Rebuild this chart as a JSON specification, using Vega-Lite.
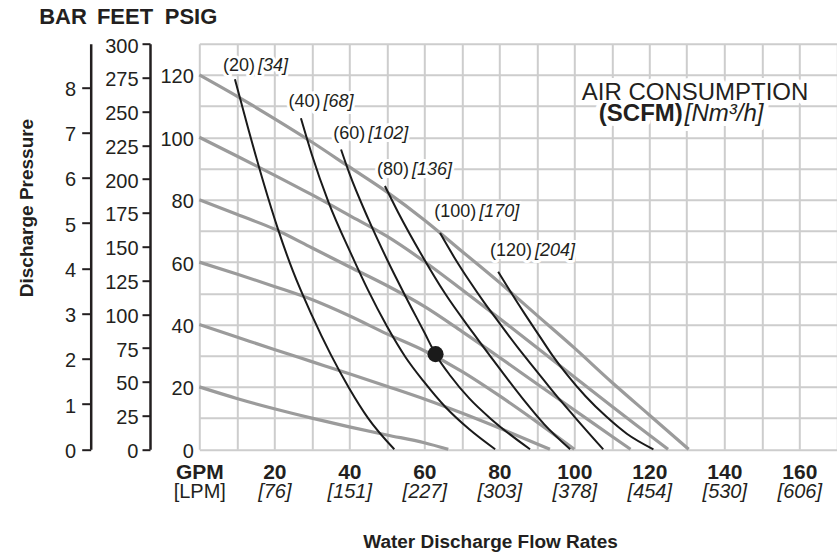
{
  "$schema": "https://vega.github.io/schema/vega-lite/v6.json",
  "width": 637.5,
  "height": 405.6,
  "autosize": {"type": "none"},
  "padding": {"left": 199.3, "top": 43.7, "right": 0, "bottom": 106.7},
  "background": "white",
  "config": {"view": {"stroke": null}, "font": "Liberation Sans"},
  "datasets": {
    "gray": [
      {"c": "120", "gpm": 0, "psi": 120}, {"c": "120", "gpm": 10, "psi": 113.2}, {"c": "120", "gpm": 20, "psi": 106}, {"c": "120", "gpm": 30, "psi": 98.5}, {"c": "120", "gpm": 40, "psi": 90.5}, {"c": "120", "gpm": 50, "psi": 82.5}, {"c": "120", "gpm": 60, "psi": 73.5}, {"c": "120", "gpm": 70, "psi": 63.5}, {"c": "120", "gpm": 80, "psi": 53.5}, {"c": "120", "gpm": 90, "psi": 43}, {"c": "120", "gpm": 100, "psi": 32.5}, {"c": "120", "gpm": 110, "psi": 21.5}, {"c": "120", "gpm": 120, "psi": 11}, {"c": "120", "gpm": 130.5, "psi": 0},
      {"c": "100", "gpm": 0, "psi": 100}, {"c": "100", "gpm": 10, "psi": 94}, {"c": "100", "gpm": 20, "psi": 87.9}, {"c": "100", "gpm": 30, "psi": 81.6}, {"c": "100", "gpm": 40, "psi": 75}, {"c": "100", "gpm": 50, "psi": 68.3}, {"c": "100", "gpm": 60, "psi": 60.2}, {"c": "100", "gpm": 70, "psi": 51.2}, {"c": "100", "gpm": 80, "psi": 42}, {"c": "100", "gpm": 90, "psi": 32.6}, {"c": "100", "gpm": 100, "psi": 23.2}, {"c": "100", "gpm": 110, "psi": 13.8}, {"c": "100", "gpm": 120, "psi": 4.6}, {"c": "100", "gpm": 125, "psi": 0},
      {"c": "80", "gpm": 0, "psi": 80}, {"c": "80", "gpm": 10, "psi": 75.3}, {"c": "80", "gpm": 20, "psi": 70.6}, {"c": "80", "gpm": 30, "psi": 64.6}, {"c": "80", "gpm": 40, "psi": 58.5}, {"c": "80", "gpm": 50, "psi": 52.5}, {"c": "80", "gpm": 60, "psi": 45.8}, {"c": "80", "gpm": 70, "psi": 37.8}, {"c": "80", "gpm": 80, "psi": 29.5}, {"c": "80", "gpm": 90, "psi": 21}, {"c": "80", "gpm": 100, "psi": 12.6}, {"c": "80", "gpm": 110, "psi": 4.2}, {"c": "80", "gpm": 115, "psi": 0},
      {"c": "60", "gpm": 0, "psi": 60}, {"c": "60", "gpm": 10, "psi": 56.2}, {"c": "60", "gpm": 20, "psi": 52.2}, {"c": "60", "gpm": 30, "psi": 48}, {"c": "60", "gpm": 40, "psi": 42.8}, {"c": "60", "gpm": 50, "psi": 37}, {"c": "60", "gpm": 60, "psi": 31.6}, {"c": "60", "gpm": 70, "psi": 25}, {"c": "60", "gpm": 80, "psi": 17.2}, {"c": "60", "gpm": 90, "psi": 8.8}, {"c": "60", "gpm": 100, "psi": 0},
      {"c": "40", "gpm": 0, "psi": 40}, {"c": "40", "gpm": 10, "psi": 36}, {"c": "40", "gpm": 20, "psi": 32}, {"c": "40", "gpm": 30, "psi": 28.1}, {"c": "40", "gpm": 40, "psi": 24.2}, {"c": "40", "gpm": 50, "psi": 20.2}, {"c": "40", "gpm": 60, "psi": 16.1}, {"c": "40", "gpm": 70, "psi": 11.6}, {"c": "40", "gpm": 80, "psi": 6.8}, {"c": "40", "gpm": 93.5, "psi": 0},
      {"c": "20", "gpm": 0, "psi": 20}, {"c": "20", "gpm": 10, "psi": 16.3}, {"c": "20", "gpm": 20, "psi": 13}, {"c": "20", "gpm": 30, "psi": 10}, {"c": "20", "gpm": 40, "psi": 7.2}, {"c": "20", "gpm": 50, "psi": 4.6}, {"c": "20", "gpm": 60, "psi": 2.1}, {"c": "20", "gpm": 66.4, "psi": 0}
    ],
    "black": [
      {"c": "20", "gpm": 9.5, "psi": 118.6}, {"c": "20", "gpm": 13, "psi": 103}, {"c": "20", "gpm": 17, "psi": 86}, {"c": "20", "gpm": 21, "psi": 70.5}, {"c": "20", "gpm": 25, "psi": 57}, {"c": "20", "gpm": 30, "psi": 43}, {"c": "20", "gpm": 35, "psi": 30.5}, {"c": "20", "gpm": 40, "psi": 19.5}, {"c": "20", "gpm": 45, "psi": 10}, {"c": "20", "gpm": 52, "psi": 0},
      {"c": "40", "gpm": 27.1, "psi": 106.1}, {"c": "40", "gpm": 30, "psi": 94.5}, {"c": "40", "gpm": 34.4, "psi": 79.4}, {"c": "40", "gpm": 40.6, "psi": 62.3}, {"c": "40", "gpm": 45, "psi": 51}, {"c": "40", "gpm": 50, "psi": 39.5}, {"c": "40", "gpm": 55, "psi": 29.5}, {"c": "40", "gpm": 60, "psi": 21.5}, {"c": "40", "gpm": 65.5, "psi": 13.7}, {"c": "40", "gpm": 72, "psi": 6.4}, {"c": "40", "gpm": 78.9, "psi": 0},
      {"c": "60", "gpm": 37.8, "psi": 96.1}, {"c": "60", "gpm": 40, "psi": 88.5}, {"c": "60", "gpm": 45, "psi": 74}, {"c": "60", "gpm": 50, "psi": 61}, {"c": "60", "gpm": 55, "psi": 49}, {"c": "60", "gpm": 60, "psi": 37.5}, {"c": "60", "gpm": 63, "psi": 30.5}, {"c": "60", "gpm": 67, "psi": 23.5}, {"c": "60", "gpm": 72, "psi": 16.3}, {"c": "60", "gpm": 78, "psi": 9.5}, {"c": "60", "gpm": 88.2, "psi": 0},
      {"c": "80", "gpm": 49.5, "psi": 84.4}, {"c": "80", "gpm": 53, "psi": 76}, {"c": "80", "gpm": 59.3, "psi": 62.3}, {"c": "80", "gpm": 65.5, "psi": 50}, {"c": "80", "gpm": 73, "psi": 37.3}, {"c": "80", "gpm": 80, "psi": 26}, {"c": "80", "gpm": 86.4, "psi": 16}, {"c": "80", "gpm": 92, "psi": 8}, {"c": "80", "gpm": 98.9, "psi": 0},
      {"c": "100", "gpm": 64.2, "psi": 69.3}, {"c": "100", "gpm": 68, "psi": 61.5}, {"c": "100", "gpm": 72, "psi": 54}, {"c": "100", "gpm": 76, "psi": 47}, {"c": "100", "gpm": 80, "psi": 40.5}, {"c": "100", "gpm": 85, "psi": 32.5}, {"c": "100", "gpm": 90, "psi": 25}, {"c": "100", "gpm": 95, "psi": 17.5}, {"c": "100", "gpm": 100, "psi": 10.5}, {"c": "100", "gpm": 107.7, "psi": 0},
      {"c": "120", "gpm": 79.7, "psi": 56.9}, {"c": "120", "gpm": 83, "psi": 50.5}, {"c": "120", "gpm": 87, "psi": 43}, {"c": "120", "gpm": 91, "psi": 35.8}, {"c": "120", "gpm": 94.4, "psi": 29.7}, {"c": "120", "gpm": 98, "psi": 24}, {"c": "120", "gpm": 103, "psi": 17}, {"c": "120", "gpm": 108.6, "psi": 10.4}, {"c": "120", "gpm": 114, "psi": 5}, {"c": "120", "gpm": 121.1, "psi": 0}
    ],
    "dot": [{"gpm": 63, "psi": 30.5}],
    "labels": [
      {"gpm": 15.1, "psi": 121.3, "scfm": "(20)", "nm": "[34]"},
      {"gpm": 32.6, "psi": 109.6, "scfm": "(40)", "nm": "[68]"},
      {"gpm": 44.5, "psi": 99.6, "scfm": "(60)", "nm": "[102]"},
      {"gpm": 56.2, "psi": 87.8, "scfm": "(80)", "nm": "[136]"},
      {"gpm": 74.1, "psi": 74.4, "scfm": "(100)", "nm": "[170]"},
      {"gpm": 89.0, "psi": 62.1, "scfm": "(120)", "nm": "[204]"}
    ],
    "air": [{"gpm": 132.2, "psi": 112.0, "t": "AIR CONSUMPTION"}],
    "unit": [{"gpm": 129.2, "psi": 105.2, "a": "(SCFM)", "b": "[Nm³/h]"}],
    "feet": [{"ft": 0}, {"ft": 300}],
    "bar": [{"bar": 0}, {"bar": 8}]
  },
  "layer": [
    {
      "encoding": {
        "x": {
          "field": "gpm", "type": "quantitative",
          "scale": {"domain": [0, 170], "nice": false, "zero": false},
          "axis": {
            "orient": "bottom",
            "values": [0, 10, 20, 30, 40, 50, 60, 70, 80, 90, 100, 110, 120, 130, 140, 150, 160, 170],
            "format": "d",
            "grid": true, "gridColor": "#cdcdcd", "gridWidth": 2, "gridOpacity": 1,
            "domain": false, "ticks": false, "tickSize": 0,
            "labelExpr": "datum.value == 0 ? 'GPM' : ((datum.value % 20 == 0 && datum.value <= 160) ? datum.label : '')",
            "labelFont": "Liberation Sans", "labelFontSize": 21, "labelFontWeight": "bold", "labelColor": "#231f20",
            "labelPadding": 12, "labelBaseline": "top", "labelFlush": false, "labelOverlap": false, "labelBound": false,
            "title": "Water Discharge Flow Rates",
            "titleFont": "Liberation Sans", "titleFontSize": 19, "titleFontWeight": "bold", "titleColor": "#231f20",
            "titleX": 290.7, "titleY": 98.0, "titleAlign": "center", "titleBaseline": "alphabetic", "titleAngle": 0
          }
        },
        "y": {
          "field": "psi", "type": "quantitative",
          "scale": {"domain": [0, 130], "nice": false, "zero": false},
          "axis": {
            "orient": "left",
            "values": [0, 10, 20, 30, 40, 50, 60, 70, 80, 90, 100, 110, 120, 130],
            "format": "d",
            "grid": true, "gridColor": "#cdcdcd", "gridWidth": 2, "gridOpacity": 1,
            "domain": false, "ticks": false, "tickSize": 0,
            "labelExpr": "(datum.value % 20 == 0 && datum.value <= 120) ? datum.label : ''",
            "labelFont": "Liberation Sans", "labelFontSize": 20, "labelColor": "#231f20",
            "labelPadding": 6, "labelBaseline": "middle", "labelOffset": 2, "labelFlush": false, "labelOverlap": false, "labelBound": false,
            "title": "PSIG", "titleFont": "Liberation Sans", "titleFontSize": 22, "titleFontWeight": "bold", "titleColor": "#231f20",
            "titleAngle": 0, "titleX": -8.8, "titleY": -20.7, "titleAlign": "center", "titleBaseline": "alphabetic"
          }
        }
      },
      "layer": [
        {
          "data": {"name": "gray"},
          "mark": {"type": "line", "color": "#9b9b9b", "strokeWidth": 3.2, "interpolate": "monotone"},
          "encoding": {"detail": {"field": "c"}}
        },
        {
          "data": {"name": "black"},
          "mark": {"type": "line", "color": "#1a1a1a", "strokeWidth": 2, "interpolate": "monotone"},
          "encoding": {"detail": {"field": "c"}}
        },
        {
          "data": {"name": "dot"},
          "mark": {"type": "point", "filled": true, "color": "#1a1a1a", "size": 260, "opacity": 1}
        },
        {
          "data": {"name": "labels"},
          "mark": {"type": "text", "align": "right", "baseline": "alphabetic", "dx": -1, "fontSize": 18, "font": "Liberation Sans", "fill": "white", "stroke": "white", "strokeWidth": 6, "strokeJoin": "round"},
          "encoding": {"text": {"field": "scfm"}}
        },
        {
          "data": {"name": "labels"},
          "mark": {"type": "text", "align": "left", "baseline": "alphabetic", "dx": 2, "fontSize": 18, "font": "Liberation Sans", "fontStyle": "italic", "fill": "white", "stroke": "white", "strokeWidth": 6, "strokeJoin": "round"},
          "encoding": {"text": {"field": "nm"}}
        },
        {
          "data": {"name": "labels"},
          "mark": {"type": "text", "align": "right", "baseline": "alphabetic", "dx": -1, "fontSize": 18, "font": "Liberation Sans", "color": "#231f20"},
          "encoding": {"text": {"field": "scfm"}}
        },
        {
          "data": {"name": "labels"},
          "mark": {"type": "text", "align": "left", "baseline": "alphabetic", "dx": 2, "fontSize": 18, "font": "Liberation Sans", "fontStyle": "italic", "color": "#231f20"},
          "encoding": {"text": {"field": "nm"}}
        },
        {
          "data": {"name": "air"},
          "mark": {"type": "text", "align": "center", "baseline": "alphabetic", "fontSize": 24, "font": "Liberation Sans", "fill": "white", "stroke": "white", "strokeWidth": 10, "strokeJoin": "round"},
          "encoding": {"text": {"field": "t"}}
        },
        {
          "data": {"name": "unit"},
          "mark": {"type": "text", "align": "right", "baseline": "alphabetic", "dx": -1, "fontSize": 24, "fontWeight": "bold", "font": "Liberation Sans", "fill": "white", "stroke": "white", "strokeWidth": 10, "strokeJoin": "round"},
          "encoding": {"text": {"field": "a"}}
        },
        {
          "data": {"name": "unit"},
          "mark": {"type": "text", "align": "left", "baseline": "alphabetic", "dx": 1, "fontSize": 24, "fontStyle": "italic", "font": "Liberation Sans", "fill": "white", "stroke": "white", "strokeWidth": 10, "strokeJoin": "round"},
          "encoding": {"text": {"field": "b"}}
        },
        {
          "data": {"name": "air"},
          "mark": {"type": "text", "align": "center", "baseline": "alphabetic", "fontSize": 24, "font": "Liberation Sans", "color": "#231f20"},
          "encoding": {"text": {"field": "t"}}
        },
        {
          "data": {"name": "unit"},
          "mark": {"type": "text", "align": "right", "baseline": "alphabetic", "dx": -1, "fontSize": 24, "fontWeight": "bold", "font": "Liberation Sans", "color": "#231f20"},
          "encoding": {"text": {"field": "a"}}
        },
        {
          "data": {"name": "unit"},
          "mark": {"type": "text", "align": "left", "baseline": "alphabetic", "dx": 1, "fontSize": 24, "fontStyle": "italic", "font": "Liberation Sans", "color": "#231f20"},
          "encoding": {"text": {"field": "b"}}
        }
      ]
    },
    {
      "data": {"name": "dot"},
      "mark": {"type": "point", "opacity": 0},
      "encoding": {
        "x": {
          "field": "gpm", "type": "quantitative",
          "scale": {"domain": [0, 170], "nice": false, "zero": false},
          "axis": {
            "orient": "bottom",
            "values": [0, 20, 40, 60, 80, 100, 120, 140, 160],
            "grid": false, "domain": false, "ticks": false, "tickSize": 0,
            "labelExpr": "['[LPM]','[76]','[151]','[227]','[303]','[378]','[454]','[530]','[606]'][round(datum.value/20)]",
            "labelFont": "Liberation Sans", "labelFontSize": 20, "labelColor": "#231f20",
            "labelFontStyle": {"condition": {"test": "datum.value == 0", "value": "normal"}, "value": "italic"},
            "labelPadding": 32.5, "labelBaseline": "top", "labelFlush": false, "labelOverlap": false, "labelBound": false,
            "title": null
          }
        }
      }
    },
    {
      "data": {"name": "feet"},
      "mark": {"type": "rule", "opacity": 0},
      "encoding": {
        "y": {
          "field": "ft", "type": "quantitative",
          "scale": {"domain": [0, 300.3], "nice": false, "zero": false},
          "axis": {
            "orient": "left", "offset": 49.3,
            "values": [0, 25, 50, 75, 100, 125, 150, 175, 200, 225, 250, 275, 300],
            "grid": false, "domain": true, "domainColor": "#231f20", "domainWidth": 2.5,
            "ticks": true, "tickColor": "#231f20", "tickWidth": 2, "tickSize": 8,
            "labelFont": "Liberation Sans", "labelFontSize": 20, "labelColor": "#231f20",
            "labelPadding": 4, "labelBaseline": "middle", "labelOffset": 2, "labelFlush": false, "labelOverlap": false, "labelBound": false,
            "title": "FEET", "titleFont": "Liberation Sans", "titleFontSize": 22, "titleFontWeight": "bold", "titleColor": "#231f20",
            "titleAngle": 0, "titleX": -25.5, "titleY": -20.7, "titleAlign": "center", "titleBaseline": "alphabetic"
          }
        }
      }
    },
    {
      "data": {"name": "bar"},
      "mark": {"type": "rule", "opacity": 0},
      "encoding": {
        "y": {
          "field": "bar", "type": "quantitative",
          "scale": {"domain": [0, 8.963], "nice": false, "zero": false},
          "axis": {
            "orient": "left", "offset": 108.6,
            "values": [0, 1, 2, 3, 4, 5, 6, 7, 8],
            "grid": false, "domain": true, "domainColor": "#231f20", "domainWidth": 2.5,
            "ticks": true, "tickColor": "#231f20", "tickWidth": 2, "tickSize": 9,
            "labelFont": "Liberation Sans", "labelFontSize": 20, "labelColor": "#231f20",
            "labelPadding": 6, "labelBaseline": "middle", "labelOffset": 2, "labelFlush": false, "labelOverlap": false, "labelBound": false,
            "title": "BAR", "titleFont": "Liberation Sans", "titleFontSize": 22, "titleFontWeight": "bold", "titleColor": "#231f20",
            "titleAngle": 0, "titleX": -28.2, "titleY": -20.7, "titleAlign": "center", "titleBaseline": "alphabetic"
          }
        }
      }
    },
    {
      "data": {"name": "bar"},
      "mark": {"type": "rule", "opacity": 0},
      "encoding": {
        "y": {
          "field": "bar", "type": "quantitative",
          "scale": {"domain": [0, 8.963], "nice": false, "zero": false},
          "axis": {
            "orient": "left", "offset": 0,
            "grid": false, "domain": false, "ticks": false, "labels": false,
            "title": "Discharge Pressure", "titleFont": "Liberation Sans", "titleFontSize": 19, "titleFontWeight": "bold", "titleColor": "#231f20",
            "titleAngle": -90, "titleX": -172.3, "titleY": 163.8, "titleAlign": "center", "titleBaseline": "middle"
          }
        }
      }
    }
  ],
  "resolve": {"scale": {"y": "independent"}, "axis": {"x": "independent", "y": "independent"}}
}
